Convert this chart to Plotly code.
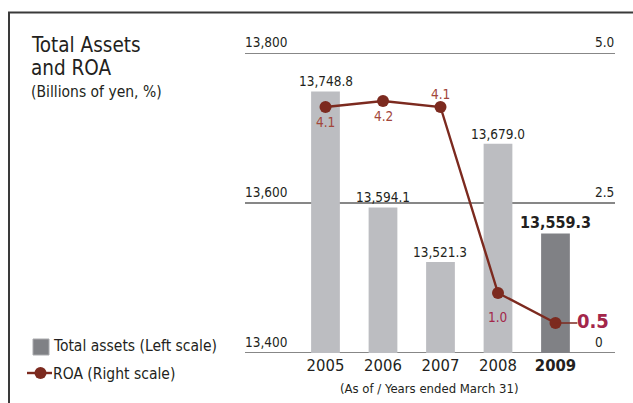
import plotly.graph_objects as go

# ---- data ----
years = ["2005", "2006", "2007", "2008", "2009"]
total_assets = [13748.8, 13594.1, 13521.3, 13679.0, 13559.3]   # billions of yen
roa = [4.1, 4.2, 4.1, 1.0, 0.5]                                # %
left_ticks = [13400, 13600, 13800]
left_tick_text = ["13,400", "13,600", "13,800"]
right_ticks = [0, 2.5, 5.0]
right_tick_text = ["0\u2008\u2007", "2.5", "5.0"]

# ---- styling ----
FONT = "DejaVu Sans Condensed, Liberation Sans, Arial, sans-serif"
INK = "#231f20"
BAR_LIGHT = "#bcbdc1"
BAR_DARK = "#808185"
ROA_LINE = "#7c2a1f"
ROA_TEXT = "#a2463a"
ROA_TEXT_HI = "#a3264a"

W, H = 633, 403
L, R, T, B = 245, 18, 53, 50
PW, PH = W - L - R, H - T - B


def px(x):
    """pixel column -> paper x"""
    return (x - L) / PW


def py(y):
    """pixel row -> paper y"""
    return (H - B - y) / PH


xs = list(range(len(years)))
bar_colors = [BAR_DARK if i == len(years) - 1 else BAR_LIGHT for i in xs]

fig = go.Figure()
fig.add_trace(go.Bar(
    x=xs, y=total_assets, width=0.5, marker=dict(color=bar_colors, line_width=0),
    hoverinfo="skip", showlegend=False,
))
fig.add_trace(go.Scatter(
    x=xs, y=roa, yaxis="y2", mode="lines+markers",
    line=dict(color=ROA_LINE, width=2.4),
    marker=dict(color=ROA_LINE, size=12),
    hoverinfo="skip", showlegend=False,
))

ann = []
shapes = []

# horizontal rules with scale labels on both sides
for t, lab in zip(left_ticks, left_tick_text):
    shapes.append(dict(type="line", xref="paper", yref="y", x0=0, x1=1, y0=t, y1=t,
                       layer="below", line=dict(color="#111111", width=1.2)))
    ann.append(dict(x=0, y=t, xref="paper", yref="y", text=lab, showarrow=False,
                    xanchor="left", yanchor="bottom", xshift=-2, yshift=1,
                    font=dict(family=FONT, size=13.5, color=INK)))
for t, lab in zip(right_ticks, right_tick_text):
    ann.append(dict(x=1, y=t, xref="paper", yref="y2", text=lab, showarrow=False,
                    xanchor="right", yanchor="bottom", xshift=1, yshift=1,
                    font=dict(family=FONT, size=13.5, color=INK)))

# value labels over the bars
for i, v in enumerate(total_assets):
    last = i == len(years) - 1
    txt = f"{v:,.1f}"
    ann.append(dict(
        x=i, y=v, xref="x", yref="y", text=f"<b>{txt}</b>" if last else txt,
        showarrow=False, yanchor="bottom", xanchor="center", yshift=0,
        font=dict(family=FONT, size=16 if last else 13.5, color=INK),
    ))

# ROA labels (vertical offset in px for each point)
roa_shift = [-15, -15, 13, -24, None]
for i, v in enumerate(roa):
    if roa_shift[i] is None:
        continue
    ann.append(dict(
        x=i, y=v, xref="x", yref="y2", text=f"{v:.1f}", showarrow=False,
        yanchor="middle", xanchor="center", yshift=roa_shift[i],
        font=dict(family=FONT, size=13.5, color=ROA_TEXT_HI if i == 3 else ROA_TEXT),
    ))

# latest ROA value with a short leader line
last_i = len(roa) - 1
ann.append(dict(
    x=last_i, y=roa[last_i], xref="x", yref="y2", text=f"<b>{roa[last_i]:.1f}</b>",
    showarrow=False, xanchor="left", yanchor="middle", xshift=20, yshift=2,
    font=dict(family=FONT, size=20, color=ROA_TEXT_HI),
))
shapes.append(dict(type="line", xref="x", yref="y2", x0=last_i, x1=last_i + 0.38,
                   y0=roa[last_i], y1=roa[last_i], line=dict(color=ROA_LINE, width=1.5)))

# title block
ann += [
    dict(x=px(29), y=py(44.5), xref="paper", yref="paper", text="Total Assets",
         showarrow=False, xanchor="left", yanchor="middle",
         font=dict(family=FONT, size=20.5, color=INK)),
    dict(x=px(29), y=py(67.5), xref="paper", yref="paper", text="and ROA",
         showarrow=False, xanchor="left", yanchor="middle",
         font=dict(family=FONT, size=20.5, color=INK)),
    dict(x=px(29), y=py(91.5), xref="paper", yref="paper", text="(Billions of yen, %)",
         showarrow=False, xanchor="left", yanchor="middle",
         font=dict(family=FONT, size=15.5, color=INK)),
    dict(x=px(429), y=py(388.5), xref="paper", yref="paper",
         text="(As of / Years ended March 31)", showarrow=False,
         xanchor="center", yanchor="middle",
         font=dict(family=FONT, size=13, color=INK)),
    # legend texts
    dict(x=px(51), y=py(346), xref="paper", yref="paper",
         text="Total assets (Left scale)", showarrow=False,
         xanchor="left", yanchor="middle", font=dict(family=FONT, size=15.5, color=INK)),
    dict(x=px(51), y=py(374), xref="paper", yref="paper",
         text="ROA (Right scale)", showarrow=False,
         xanchor="left", yanchor="middle", font=dict(family=FONT, size=15.5, color=INK)),
]

shapes += [
    # frame
    dict(type="line", xref="paper", yref="paper", x0=px(8), x1=px(640),
         y0=py(12.5), y1=py(12.5), line=dict(color="#3a3a3a", width=2)),
    dict(type="line", xref="paper", yref="paper", x0=px(9), x1=px(9),
         y0=py(12.5), y1=py(410), line=dict(color="#3a3a3a", width=2)),
    # legend swatches
    dict(type="rect", xref="paper", yref="paper", x0=px(33), x1=px(49),
         y0=py(339), y1=py(355), fillcolor=BAR_DARK, line=dict(color="#a9aaad", width=1)),
    dict(type="line", xref="paper", yref="paper", x0=px(27), x1=px(52),
         y0=py(373), y1=py(373), line=dict(color=ROA_LINE, width=2.4)),
    dict(type="circle", xref="paper", yref="paper", x0=px(34.5), x1=px(46.5),
         y0=py(367), y1=py(379), fillcolor=ROA_LINE, line=dict(width=0)),
]

year_text = [f"<b>{y}</b>" if i == len(years) - 1 else y for i, y in enumerate(years)]

fig.update_layout(
    width=W, height=H,
    margin=dict(l=L, r=R, t=T, b=B, pad=0),
    paper_bgcolor="white", plot_bgcolor="white",
    xaxis=dict(
        range=[-1.4, 5.035], tickvals=xs, ticktext=year_text,
        showgrid=False, zeroline=False, showline=False, ticks="",
        tickfont=dict(family=FONT, size=16.5, color=INK),
    ),
    yaxis=dict(
        range=[13400, 13800], showgrid=False, zeroline=False,
        showline=False, ticks="", showticklabels=False,
    ),
    yaxis2=dict(
        range=[0, 5], overlaying="y", side="right", showgrid=False,
        zeroline=False, showline=False, ticks="", showticklabels=False,
    ),
    annotations=ann,
    shapes=shapes,
)

fig.write_html("out.html")
